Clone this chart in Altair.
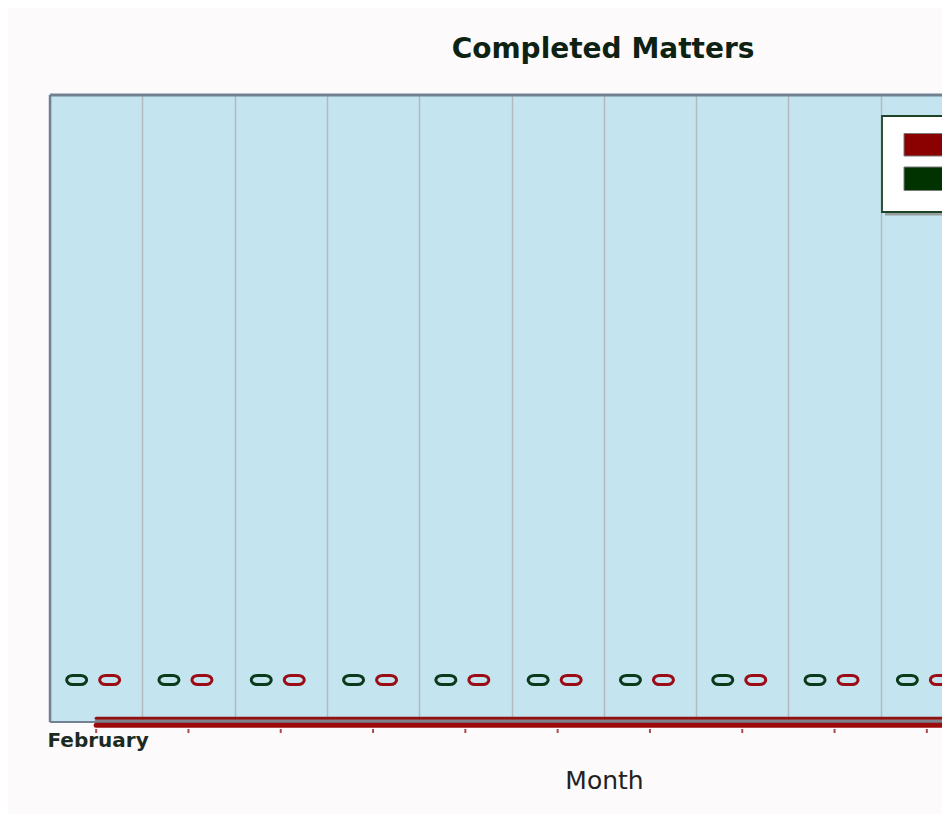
import altair as alt
import pandas as pd

# ---- data -----------------------------------------------------------------
months = ["February", "March", "April", "May", "June", "July",
          "August", "September", "October", "November", "December", "January"]
series = ["Pending", "Completed"]          # green, red
series_colors = ["#0b3a1a", "#9c0c14"]
legend_colors = ["#8b0000", "#003300"]     # legend order: red first, green second
pending_values = [0, 0, 0, 0, 0, 0, 0, 0, 0, 0, 0, 0]
completed_values = [0, 0, 0, 0, 0, 0, 0, 0, 0, 0, 0, 0]

rows = []
for i, m in enumerate(months):
    rows.append({"idx": i + 0.5, "month": m, "series": series[0], "value": pending_values[i]})
    rows.append({"idx": i + 0.5, "month": m, "series": series[1], "value": completed_values[i]})
df = pd.DataFrame(rows)

# ---- geometry / style -----------------------------------------------------
PLOT_W, PLOT_H = 892, 627
STEP = 92.3
FONT = "DejaVu Sans"
BORDER = "#718192"

xscale = alt.Scale(domain=[0, PLOT_W / STEP], nice=False, zero=False)
yscale = alt.Scale(domain=[0, 10], nice=False, zero=False)

x_axis = alt.Axis(
    values=list(range(1, 10)) + [0], grid=True, gridColor="#b2babe", gridWidth=1.5,
    ticks=False, tickSize=0, domain=False,
    labelExpr="datum.value == 0 ? '%s' : ''" % months[0],
    labelAlign="left", labelBaseline="top", labelOverlap=False, labelFlush=False,
    labelFont=FONT, labelFontWeight="bold", labelFontSize=20, labelColor="#1c2a22",
    labelPadding=8, labelOffset=-3,
    title="Month", titleFont=FONT, titleFontWeight="normal", titleFontSize=25,
    titleColor="#222222", titleX=554, titleY=66, titleAlign="center",
    titleBaseline="alphabetic", titleAnchor="start",
)

base = alt.Chart(df)

oval = ("M-0.4,-0.45 L0.4,-0.45 A0.6,0.45 0 0 1 0.4,0.45 "
        "L-0.4,0.45 A0.6,0.45 0 0 1 -0.4,-0.45 Z")

def pts(s_idx, dx):
    return base.transform_filter(alt.datum.series == series[s_idx]).mark_point(
        shape=oval, filled=False, size=400, strokeWidth=3,
        color=series_colors[s_idx], opacity=1, xOffset=dx, yOffset=-42,
    ).encode(
        x=alt.X("idx:Q", scale=xscale, axis=x_axis),
        y=alt.Y("value:Q", scale=yscale, axis=None),
    )

green_pts = pts(0, -19.5)
red_pts = pts(1, 13.5)

red_only = base.transform_filter(alt.datum.series == series[1])

def baseline_line(color, width, dy):
    return red_only.mark_line(color=color, strokeWidth=width, strokeCap="round",
                              yOffset=dy).encode(
        x=alt.X("idx:Q", scale=xscale),
        y=alt.Y("value:Q", scale=yscale),
    )

line_top = baseline_line("#8e1212", 3, -3.8)
line_mid = baseline_line("#7c818c", 2.5, -1)
line_bot = baseline_line("#9b0b0b", 5, 3.3)

notches = red_only.mark_tick(orient="vertical", size=4, thickness=2,
                             color="#8b0000", yOffset=9).encode(
    x=alt.X("idx:Q", scale=xscale),
    y=alt.Y("value:Q", scale=yscale),
)

# ---- plot frame (left, top, bottom; right side runs off the page) ---------
one = pd.DataFrame({"k": [0]})
frame_left = alt.Chart(one).mark_rule(color=BORDER, strokeWidth=2.5).encode(
    x=alt.value(0), y=alt.value(0), y2=alt.value(PLOT_H))
frame_top = alt.Chart(one).mark_rule(color=BORDER, strokeWidth=3).encode(
    x=alt.value(0), x2=alt.value(PLOT_W + 10), y=alt.value(0))
frame_bot = alt.Chart(one).mark_rule(color=BORDER, strokeWidth=2).encode(
    x=alt.value(0), x2=alt.value(PLOT_W + 10), y=alt.value(PLOT_H))

# ---- title ----------------------------------------------------------------
title_df = pd.DataFrame({"t": ["Completed Matters"]})
title = alt.Chart(title_df).mark_text(
    font=FONT, fontWeight="bold", fontSize=28, color="#0e2214",
    align="center", baseline="alphabetic",
).encode(text="t:N", x=alt.value(553), y=alt.value(-37))

# ---- legend box (drawn manually, labels fall outside the visible area) ----
shadow = alt.Chart(one).mark_rect(color="#8c8c8c", opacity=0.8).encode(
    x=alt.value(835), x2=alt.value(1010), y=alt.value(24), y2=alt.value(120.5))
box = alt.Chart(one).mark_rect(fill="#ffffff", stroke="#1d4426", strokeWidth=1.8).encode(
    x=alt.value(832), x2=alt.value(1000), y=alt.value(21), y2=alt.value(117))
sw1 = alt.Chart(one).mark_rect(fill=legend_colors[0], stroke="#7a7a7a", strokeWidth=1).encode(
    x=alt.value(854), x2=alt.value(920), y=alt.value(38.5), y2=alt.value(61))
sw2 = alt.Chart(one).mark_rect(fill=legend_colors[1], stroke="#7a7a7a", strokeWidth=1).encode(
    x=alt.value(854), x2=alt.value(920), y=alt.value(72), y2=alt.value(95.5))

chart = alt.layer(
    green_pts, red_pts, frame_left, frame_top, frame_bot,
    line_mid, line_top, line_bot, notches,
    title, shadow, box, sw1, sw2,
).properties(
    width=PLOT_W, height=PLOT_H,
    autosize=alt.AutoSizeParams(type="none"),
    padding={"left": 42, "top": 87, "right": 0, "bottom": 92},
    background="#fcfafb",
).configure_view(
    fill="#c4e4f0", strokeWidth=0,
)

chart.save("out.html", embed_options={"renderer": "svg", "actions": False})
